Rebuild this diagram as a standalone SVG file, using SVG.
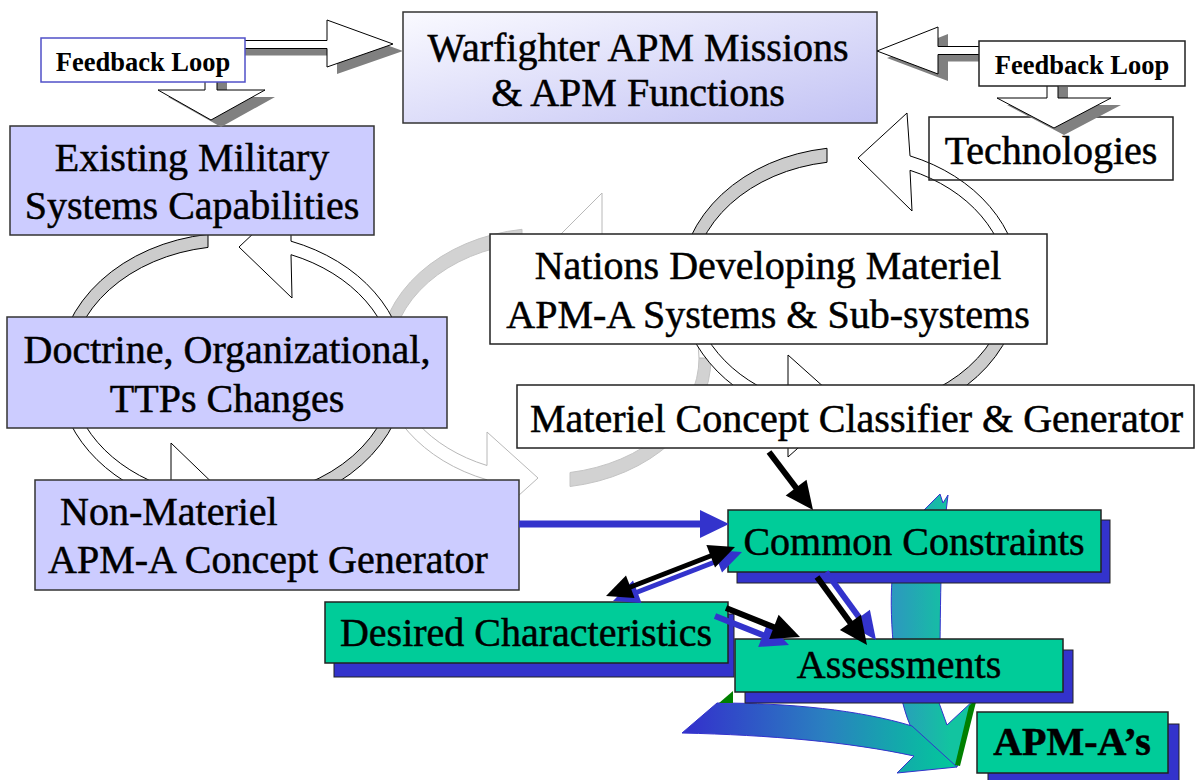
<svg xmlns="http://www.w3.org/2000/svg" width="1196" height="780" viewBox="0 0 1196 780">
<defs>
<linearGradient id="wf" x1="0" y1="0" x2="1" y2="1"><stop offset="0" stop-color="#fafaff"/><stop offset="1" stop-color="#c2c2f4"/></linearGradient>
<linearGradient id="ga" gradientUnits="userSpaceOnUse" x1="690" y1="0" x2="960" y2="0"><stop offset="0" stop-color="#3333cc"/><stop offset="0.5" stop-color="#2a80c0"/><stop offset="1" stop-color="#00cc99"/></linearGradient>
<linearGradient id="gb" gradientUnits="userSpaceOnUse" x1="890" y1="0" x2="950" y2="0"><stop offset="0" stop-color="#2e96c0"/><stop offset="1" stop-color="#12c4a0"/></linearGradient>
<style>
text{font-family:'Liberation Serif',serif}
.t{font-size:40px;fill:#000;stroke:#000;stroke-width:0.5}
.c{text-anchor:middle}
.fb{font-size:26.5px;font-weight:bold;text-anchor:middle;fill:#000}
.bb{font-weight:bold}
.lg{fill:#cccccc;stroke:#000;stroke-width:1}
.lw{fill:#fff;stroke:#000;stroke-width:1}
.mg{fill:#d2d2d2;stroke:#c4c4c4;stroke-width:1}
.mw{fill:#fff;stroke:#b8b8b8;stroke-width:1}
.lav{fill:#ccccff;stroke:#333;stroke-width:1.5}
.wht{fill:#fff;stroke:#222;stroke-width:1.5}
.grn{fill:#00cc99;stroke:#222;stroke-width:1.5}
.shd{fill:#3333cc;stroke:#222;stroke-width:1}
.fa{fill:#fff;stroke:#000;stroke-width:1}
.fs{fill:#808080}
.bk{stroke:#000;stroke-width:6;fill:none}
.bl{stroke:#3333cc;stroke-width:6;fill:none}
</style>
</defs>

<g id="loops">
  <g id="loop-middle">
    <path class="mg" d="M522,229.3 A166 130 0 0 0 379,358 L391,358 A154 116 0 0 1 522,243.3 Z"/>
    <path class="mw" d="M379,358 A166 130 0 0 0 487,479.8 L487,524 L538,478 L487,432 L487,465.5 A154 116 0 0 1 391,358 Z"/>
    <path class="mg" d="M570,486.5 A166 130 0 0 0 711,358 L699,358 A154 116 0 0 1 570,472.5 Z"/>
    <path class="mw" d="M711,358 A166 130 0 0 0 602,235.9 L602,193 L552,243 L602,293 L602,250.2 A154 116 0 0 1 699,358 Z"/>
  </g>
  <g id="loop-left">
    <path class="lg" d="M208,234.3 A174 139 0 0 0 58,372 L70,372 A162 126 0 0 1 208,247.4 Z"/>
    <path class="lw" d="M58,372 A174 139 0 0 0 171,502.2 L171,548 L225,495 L171,443 L171,488.7 A162 126 0 0 1 70,372 Z"/>
    <path class="lg" d="M250,510.3 A174 139 0 0 0 406,372 L394,372 A162 126 0 0 1 250,497.2 Z"/>
    <path class="lw" d="M406,372 A174 139 0 0 0 291,241.2 L291,198 L239,247 L292,298 L291,254.7 A162 126 0 0 1 394,372 Z"/>
  </g>
  <g id="loop-right">
    <path class="lg" d="M827,148.3 A170 138 0 0 0 680,285 L692,285 A158 124 0 0 1 827,162.3 Z"/>
    <path class="lw" d="M680,285 A170 138 0 0 0 788,413.5 L788,457 L845,406 L788,355 L788,399.1 A158 124 0 0 1 692,285 Z"/>
    <path class="lg" d="M870,422 A170 138 0 0 0 1020,285 L1008,285 A158 124 0 0 1 870,408 Z"/>
    <path class="lw" d="M1020,285 A170 138 0 0 0 910,155.9 L907,113 L858,158 L912,211 L910,170.3 A158 124 0 0 1 1008,285 Z"/>
  </g>
</g>

<g id="node-warfighter">
  <rect x="403" y="12" width="474" height="111" fill="url(#wf)" stroke="#333" stroke-width="1.5"/>
  <text class="t c" x="638" y="61">Warfighter APM Missions</text>
  <text class="t c" x="638" y="106">&amp; APM Functions</text>
</g>
<g id="node-existing">
  <rect class="lav" x="10" y="126" width="364" height="109"/>
  <text class="t c" x="192" y="171">Existing Military</text>
  <text class="t c" x="192" y="219">Systems Capabilities</text>
</g>
<g id="node-doctrine">
  <rect class="lav" x="7" y="317" width="440" height="111"/>
  <text class="t c" x="227" y="363">Doctrine, Organizational,</text>
  <text class="t c" x="227" y="412">TTPs Changes</text>
</g>
<g id="node-nonmateriel">
  <rect class="lav" x="35" y="480" width="484" height="110"/>
  <text class="t" x="60" y="525">Non-Materiel</text>
  <text class="t" x="48" y="573">APM-A Concept Generator</text>
</g>
<g id="node-nations">
  <rect class="wht" x="490" y="234" width="557" height="110"/>
  <text class="t c" x="768" y="279">Nations Developing Materiel</text>
  <text class="t c" x="768" y="328">APM-A Systems &amp; Sub-systems</text>
</g>
<g id="node-materiel">
  <rect class="wht" x="517" y="385" width="677" height="63"/>
  <text class="t" x="530" y="432">Materiel Concept Classifier &amp; Generator</text>
</g>
<g id="node-technologies">
  <rect x="929" y="117" width="244" height="63" fill="none" stroke="#222" stroke-width="1.5"/>
  <text class="t c" x="1051" y="164">Technologies</text>
</g>

<g id="feedback-arrows">
  <path class="fs" transform="translate(10,7)" d="M235,40.5 H327 V20 L393,44 L327,67 V48.5 H235 Z"/>
  <path class="fa" d="M235,40.5 H327 V20 L393,44 L327,67 V48.5 H235 Z"/>
  <path class="fs" transform="translate(10,7)" d="M205,75 V90 H158 L211,120 L265,90 H217 V75 Z"/>
  <path class="fa" d="M205,75 V90 H158 L211,120 L265,90 H217 V75 Z"/>
  <path class="fs" transform="translate(10,7)" d="M990,46.5 H938 V27 L877,51 L938,74 V54.5 H990 Z"/>
  <path class="fa" d="M990,46.5 H938 V27 L877,51 L938,74 V54.5 H990 Z"/>
  <path class="fs" transform="translate(10,7)" d="M1047,80 V98 H997 L1054,128 L1111,98 H1058 V80 Z"/>
  <path class="fa" d="M1047,80 V98 H997 L1054,128 L1111,98 H1058 V80 Z"/>
</g>
<g id="node-feedback-left">
  <rect x="41" y="38" width="204" height="44" fill="#fff" stroke="#5050c8" stroke-width="1.5"/>
  <text class="fb" x="143" y="71">Feedback Loop</text>
</g>
<g id="node-feedback-right">
  <rect class="wht" x="979" y="41" width="206" height="45"/>
  <text class="fb" x="1082" y="74">Feedback Loop</text>
</g>

<g id="flow-arrows">
  <path d="M924,510 L940,494 L943,503 L948,495 L946,512 C938,560 942,650 938,700 L947,725 L976,698 L957,767 L893,738 L910,725 C895,690 889,620 892,580 C895,550 910,525 924,510 Z" fill="url(#gb)" stroke="#3333cc" stroke-width="1"/>
  <polygon points="969,706 977,698 960,766 955,765" fill="#008000"/>
  <path d="M682,733 L717,703 C790,703 860,710 912,726 L957,767 L897,773 L914,756 C850,742 770,735 682,733 Z" fill="url(#ga)" stroke="#3333cc" stroke-width="1"/>
  <polygon points="719,703 733,691 733,703" fill="#008000"/>
</g>

<g id="node-common">
  <rect class="shd" x="737" y="520" width="373" height="63"/>
  <rect class="grn" x="728" y="510" width="373" height="62"/>
  <text class="t c" x="914" y="555">Common Constraints</text>
</g>
<g id="node-desired">
  <rect class="shd" x="334" y="614" width="400" height="63"/>
  <rect class="grn" x="325" y="602" width="403" height="61"/>
  <text class="t c" x="526" y="646">Desired Characteristics</text>
</g>
<g id="node-assessments">
  <rect class="shd" x="745" y="650" width="328" height="53"/>
  <rect class="grn" x="735" y="639" width="328" height="53"/>
  <text class="t c" x="899" y="678">Assessments</text>
</g>
<g id="node-apmas">
  <rect class="shd" x="988" y="724" width="191" height="62"/>
  <rect class="grn" x="977" y="712" width="191" height="61"/>
  <text class="t c bb" x="1072" y="755">APM-A’s</text>
</g>

<g id="connectors">
  <line x1="519" y1="524" x2="703" y2="524" stroke="#3333cc" stroke-width="7"/>
  <polygon points="700,510 729,524 700,538" fill="#3333cc"/>
  <line class="bk" x1="769" y1="452" x2="797" y2="489"/>
  <polygon points="785.7,495.6 813,510 806.5,479.8" fill="#000"/>
  <g transform="translate(7,5)">
    <line x1="628" y1="588" x2="713" y2="555" stroke="#3333cc" stroke-width="5"/>
    <polygon points="634.6,598 606,596 626,575.6" fill="#3333cc"/>
    <polygon points="715,567.4 735,547 706.4,545" fill="#3333cc"/>
  </g>
  <line x1="628" y1="588" x2="713" y2="555" stroke="#000" stroke-width="5"/>
  <polygon points="634.6,598 606,596 626,575.6" fill="#000"/>
  <polygon points="715,567.4 735,547 706.4,545" fill="#000"/>
  <g transform="translate(9,-5)">
    <line class="bl" x1="817" y1="577" x2="852" y2="625"/>
    <polygon points="839.9,630.1 867,645 860.9,614.7" fill="#3333cc"/>
  </g>
  <line class="bk" x1="817" y1="577" x2="852" y2="625"/>
  <polygon points="839.9,630.1 867,645 860.9,614.7" fill="#000"/>
  <g transform="translate(-11,8)">
    <line class="bl" x1="726" y1="608" x2="776" y2="628"/>
    <polygon points="769.2,638.9 800,637 778.6,614.7" fill="#3333cc"/>
  </g>
  <line class="bk" x1="726" y1="608" x2="776" y2="628"/>
  <polygon points="769.2,638.9 800,637 778.6,614.7" fill="#000"/>
</g>
</svg>
